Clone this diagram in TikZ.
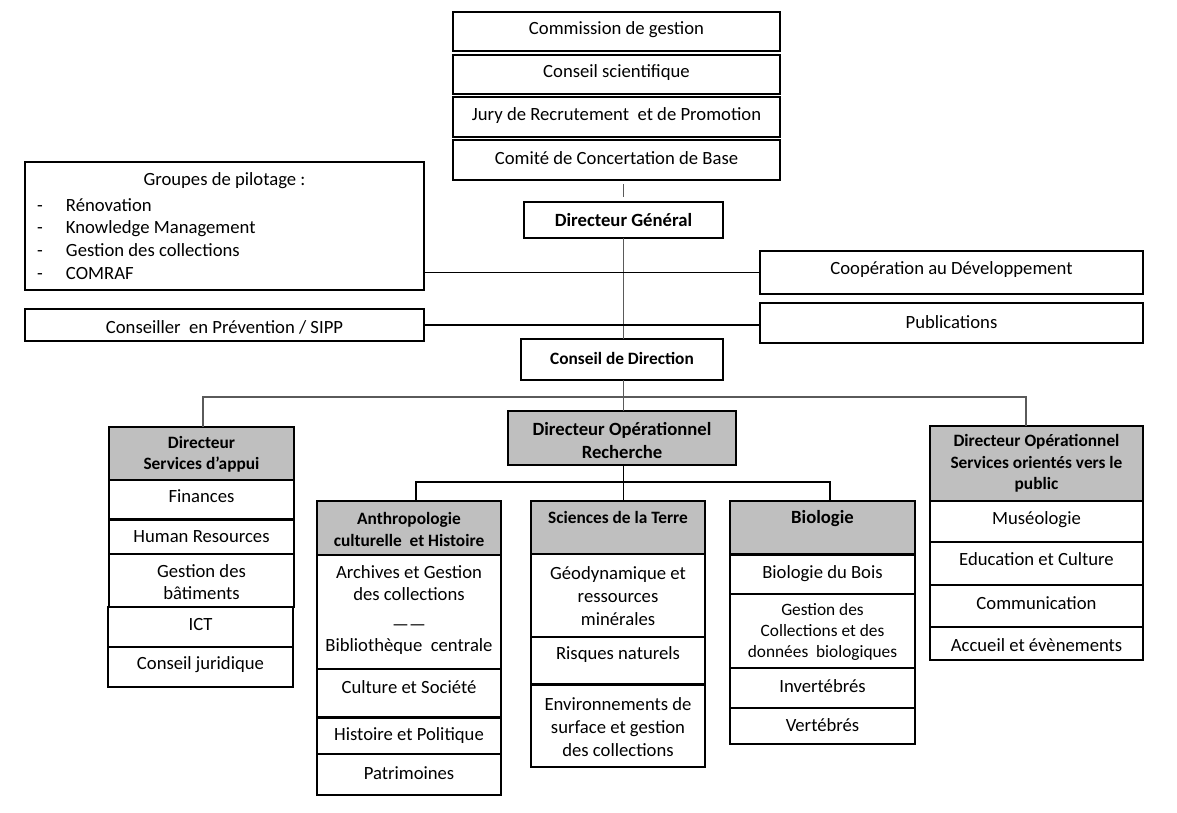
\documentclass[tikz,border=0pt]{standalone}
\usepackage{fontspec}
\setmainfont{Carlito}
\definecolor{hdrgray}{RGB}{191,191,191}
\definecolor{lineg}{RGB}{90,90,90}
\newcommand\fA{\fontsize{18.67}{22.8}\selectfont}
\newcommand\fB{\fontsize{18.67}{23}\selectfont\bfseries}
\newcommand\fC{\fontsize{17.33}{21.3}\selectfont\bfseries}
\newcommand\fD{\fontsize{17.33}{21}\selectfont}
% name, x1, y1, x2, y2, box style, text y, font, text
\newcommand\bx[9]{%
  \node[#6, minimum width={(#4)-(#2)}, minimum height={(#5)-(#3)}] (#1) at ({((#2)+(#4))/2},{((#3)+(#5))/2}) {};
  \node[txt, font=#8] (#1t) at ({((#2)+(#4))/2},#7) {#9};}
\tikzset{
  box/.style={draw, line width=1.1pt, inner sep=0pt, outer sep=0pt, fill=white},
  hdr/.style={box, fill=hdrgray},
  txt/.style={inner sep=0pt, outer sep=0pt, align=center},
  conn/.style={draw, line width=1.1pt, black},
  conng/.style={draw, line width=1.3pt, lineg}
}
\begin{document}
\begin{tikzpicture}[x=1pt,y=-1pt]
\fill[white] (0,0) rectangle (1177,812);
\useasboundingbox (0,0) rectangle (1177,812);

% top committees
\bx{cg}{453}{12}{780}{51}{box}{30}{\fA}{Commission de gestion}
\bx{cs}{453}{55}{780}{94}{box}{73}{\fA}{Conseil scientifique}
\bx{jury}{453}{97}{780}{137}{box}{116}{\fA}{Jury de Recrutement\ \ et de Promotion}
\bx{ccb}{453}{140}{780}{180}{box}{158}{\fA}{Comité de Concertation de Base}

% general direction
\bx{dg}{524}{202}{723}{238}{box}{220}{\fB}{Directeur Général}
\bx{grp}{25}{162}{424}{290}{box}{181}{\fA}{Groupes de pilotage :}
\node[txt, font=\fA, align=left, anchor=west] (grpl) at (37,239) {%
  \makebox[29pt][l]{-}Rénovation\\
  \makebox[29pt][l]{-}Knowledge Management\\
  \makebox[29pt][l]{-}Gestion des collections\\
  \makebox[29pt][l]{-}COMRAF};
\bx{coop}{760}{251}{1143}{294}{box}{270}{\fA}{Coopération au Développement}
\bx{pub}{760}{303}{1143}{343}{box}{322}{\fA}{Publications}
\bx{cons}{25}{309}{424}{341}{box}{327}{\fA}{Conseiller\ \ en Prévention / SIPP}
\bx{cd}{521}{339}{723}{380}{box}{358}{\fC}{Conseil de Direction}

% support services
\bx{dsa}{109}{427}{294}{480}{hdr}{454.5}{\fC}{Directeur\\Services d’appui}
\bx{fin}{109}{480}{294}{519}{box}{496}{\fA}{Finances}
\bx{hr}{109}{520}{294}{554}{box}{537}{\fA}{Human Resources}
\bx{gb}{109}{554}{294}{607}{box}{582}{\fA}{Gestion des\\bâtiments}
\bx{ict}{108}{607}{293}{647}{box}{624}{\fA}{ICT}
\bx{cj}{108}{647}{293}{687}{box}{665}{\fA}{Conseil juridique}

% research
\bx{dor}{508}{411}{736}{465}{hdr}{440.5}{\fB}{Directeur Opérationnel\\Recherche}

\bx{ant}{317}{501}{501}{555}{hdr}{529.5}{\fC}{Anthropologie\\culturelle\ \ et Histoire}
\bx{arc}{317}{555}{501}{669}{box}{583}{\fA}{Archives et Gestion\\des collections}
\node[txt, font=\fA, anchor=base] (arc2) at (409,630) {——};
\node[txt, font=\fA] (arc3) at (409,647) {Bibliothèque\ \ centrale};
\bx{cus}{317}{669}{501}{717}{box}{687}{\fA}{Culture et Société}
\bx{hp}{317}{718}{501}{754}{box}{736}{\fA}{Histoire et Politique}
\bx{pat}{317}{754}{501}{795}{box}{773}{\fA}{Patrimoines}

\bx{sci}{531}{501}{705}{554}{hdr}{517}{\fC}{Sciences de la Terre}
\bx{geo}{531}{554}{705}{637}{box}{596}{\fA}{Géodynamique et\\ressources\\minérales}
\bx{rn}{531}{637}{705}{684}{box}{655}{\fA}{Risques naturels}
\bx{env}{531}{685}{705}{767}{box}{727}{\fA}{Environnements de\\surface et gestion\\des collections}

\bx{bio}{730}{501}{915}{554}{hdr}{519}{\fB}{Biologie}
\bx{bb}{730}{555}{915}{594}{box}{574}{\fA}{Biologie du Bois}
\bx{gcd}{730}{594}{915}{668}{box}{632}{\fD}{Gestion des\\Collections et des\\données\ \ biologiques}
\bx{inv}{730}{668}{915}{708}{box}{686}{\fA}{Invertébrés}
\bx{ver}{730}{708}{915}{744}{box}{725}{\fA}{Vertébrés}

% public services
\bx{dsp}{930}{426}{1143}{501}{hdr}{463.5}{\fC}{Directeur Opérationnel\\Services orientés vers le\\public}
\bx{mus}{930}{501}{1143}{542}{box}{520}{\fA}{Muséologie}
\bx{edu}{930}{542}{1143}{585}{box}{559}{\fA}{Education et Culture}
\bx{com}{930}{585}{1143}{627}{box}{603}{\fA}{Communication}
\bx{acc}{930}{627}{1143}{660}{box}{645}{\fA}{Accueil et évènements}

% connectors
\coordinate (busL) at (203,397);
\coordinate (busR) at (1026,397);
\coordinate (rL) at (416,482);
\coordinate (rR) at (830,482);
\draw[conng, shorten <=4pt, shorten >=5pt] (dg.north |- ccb.south) -- (dg.north);
\draw[conng] (dg.south) -- (dg.south |- cd.north);
\draw[conn] (grp.east |- coop.west) -- (coop.west);
\draw[conn] (cons.east) -- (cons.east -| pub.west);
\draw[conng] (busL |- dsa.north) -- (busL) -- (busR) -- (busR |- dsp.north);
\draw[conng] (dg.south |- cd.south) -- (dg.south |- dor.north);
\draw[conn] (dg.south |- dor.south) -- (dg.south |- sci.north);
\draw[conn] (rL |- ant.north) -- (rL) -- (rR) -- (rR |- bio.north);
\end{tikzpicture}
\end{document}
